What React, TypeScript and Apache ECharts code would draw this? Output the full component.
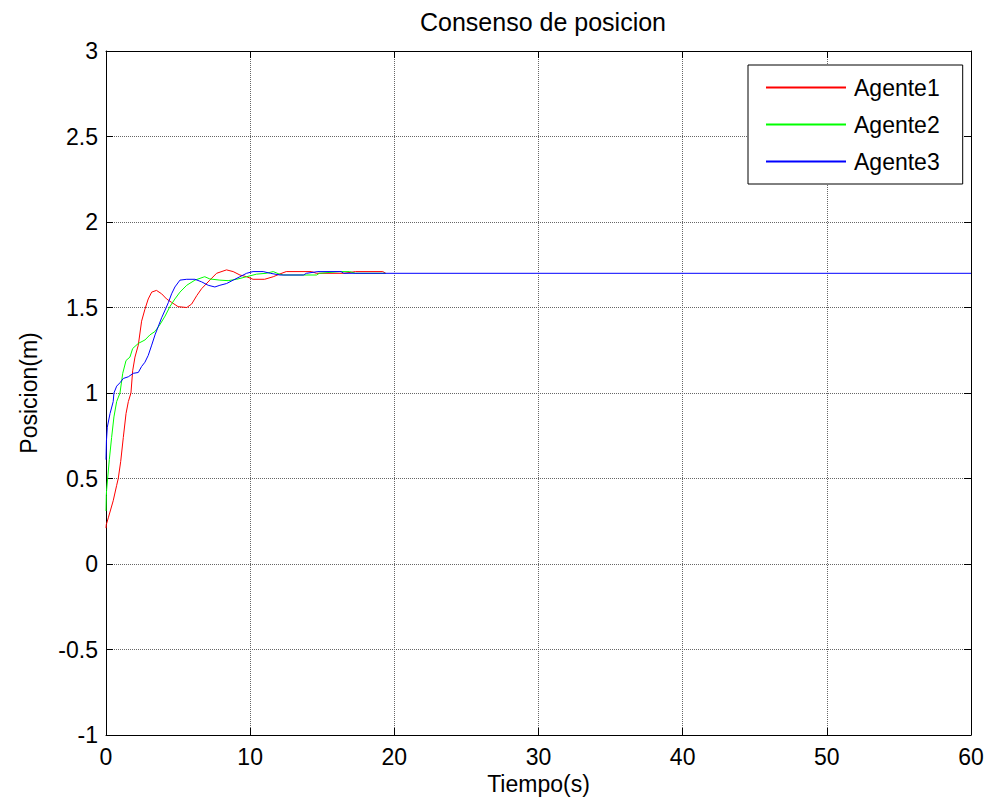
import React, { useEffect, useRef } from "react";
import * as echarts from "echarts";

// Tiempo (s) y posición (m) de cada agente
const agente1T = [0, 0.02, 0.16, 0.5, 0.74, 0.85, 1.02, 1.2, 1.39, 1.55, 1.73, 1.85, 2.01, 2.24, 2.47, 2.7, 2.93, 3.17, 3.5, 3.86, 4.2, 4.55, 5.0, 5.6, 5.94, 6.3, 6.63, 7.2, 7.67, 8.36, 8.82, 9.29, 9.75, 10.2, 11.0, 11.6, 12.06, 12.5, 14.25, 14.6, 16.5, 17.3, 19.2, 19.4];
const agente1Y = [0.21, 0.23, 0.27, 0.37, 0.46, 0.5, 0.6, 0.74, 0.88, 0.95, 1.0, 1.13, 1.21, 1.28, 1.42, 1.49, 1.55, 1.59, 1.6, 1.58, 1.55, 1.53, 1.505, 1.5, 1.52, 1.57, 1.61, 1.66, 1.7, 1.72, 1.71, 1.69, 1.68, 1.665, 1.665, 1.68, 1.696, 1.71, 1.71, 1.7, 1.7, 1.71, 1.71, 1.7];

const agente2T = [0, 0.02, 0.04, 0.23, 0.39, 0.55, 0.74, 0.97, 1.16, 1.39, 1.66, 1.85, 2.24, 2.7, 3.05, 3.4, 3.74, 4.1, 4.43, 4.78, 5.13, 5.6, 6.17, 6.74, 6.85, 7.2, 7.9, 8.47, 9.06, 9.75, 10.44, 11.1, 11.6, 12.0, 12.3, 14.6, 14.8, 16.2, 16.9, 17.3, 19.4];
const agente2Y = [0.31, 0.4, 0.43, 0.61, 0.74, 0.86, 0.95, 1.0, 1.115, 1.19, 1.21, 1.26, 1.29, 1.31, 1.34, 1.36, 1.4, 1.45, 1.505, 1.55, 1.59, 1.63, 1.66, 1.677, 1.68, 1.667, 1.66, 1.657, 1.665, 1.68, 1.695, 1.7, 1.71, 1.696, 1.69, 1.69, 1.7, 1.71, 1.71, 1.7, 1.7];

const agente3T = [0, 0.03, 0.09, 0.28, 0.5, 0.55, 0.74, 0.97, 1.2, 1.55, 1.89, 2.24, 2.47, 2.7, 2.93, 3.17, 3.4, 3.63, 3.86, 4.1, 4.33, 4.55, 4.78, 5.13, 5.6, 6.17, 6.63, 7.09, 7.55, 7.9, 8.36, 8.82, 9.29, 9.75, 10.2, 10.9, 11.4, 12.06, 13.7, 13.9, 14.7, 16.3, 16.5, 60];
const agente3Y = [0.61, 0.72, 0.8, 0.88, 0.95, 1.0, 1.04, 1.06, 1.085, 1.095, 1.115, 1.12, 1.155, 1.18, 1.22, 1.28, 1.34, 1.39, 1.44, 1.485, 1.53, 1.58, 1.62, 1.66, 1.665, 1.665, 1.65, 1.63, 1.62, 1.63, 1.64, 1.66, 1.68, 1.7, 1.71, 1.71, 1.7, 1.69, 1.69, 1.7, 1.71, 1.71, 1.7, 1.7];

const agentes = [
  { name: "Agente1", t: agente1T, y: agente1Y, color: "#ff0000" },
  { name: "Agente2", t: agente2T, y: agente2Y, color: "#00ff00" },
  { name: "Agente3", t: agente3T, y: agente3Y, color: "#0000ff" },
];

const FONT = "Liberation Sans, Arial, Helvetica, sans-serif";

export default function App() {
  const ref = useRef<HTMLDivElement>(null);

  useEffect(() => {
    if (!ref.current) return;
    const chart = echarts.init(ref.current, undefined, { renderer: "svg" });

    const tickInside = { show: true, inside: true, length: 7, lineStyle: { color: "#000", width: 1 } };
    const axisLine = { show: true, onZero: false, lineStyle: { color: "#000", width: 1 } };
    const gridLine = { show: true, lineStyle: { color: "#666", width: 1, type: "dotted" as const } };

    chart.setOption({
      animation: false,
      backgroundColor: "#fff",
      title: {
        text: "Consenso de posicion",
        left: 538,
        textAlign: "center",
        top: 4,
        textStyle: { fontFamily: FONT, fontSize: 25, fontWeight: "normal", color: "#000" },
      },
      grid: { left: 106, top: 51, right: 18, bottom: 72, containLabel: false },
      legend: {
        orient: "vertical",
        left: 748,
        top: 65,
        padding: [11, 23, 11, 17],
        itemWidth: 80,
        itemHeight: 14,
        itemGap: 14,
        borderColor: "#000",
        borderWidth: 1,
        backgroundColor: "#fff",
        // only the line sample, no marker
        itemStyle: { color: "transparent", borderWidth: 0, opacity: 0 },
        textStyle: { fontFamily: FONT, fontSize: 23, color: "#000", lineHeight: 23, padding: [0, 0, 0, 3] },
        data: agentes.map((a) => a.name),
      },
      xAxis: [
        {
          type: "value",
          position: "bottom",
          min: 0,
          max: 60,
          interval: 10,
          name: "Tiempo(s)",
          nameLocation: "middle",
          nameGap: 34,
          nameTextStyle: { fontFamily: FONT, fontSize: 23, color: "#000" },
          axisLine,
          axisTick: tickInside,
          axisLabel: { fontFamily: FONT, fontSize: 23, color: "#000", margin: 10 },
          splitLine: gridLine,
        },
        {
          type: "value",
          position: "top",
          min: 0,
          max: 60,
          interval: 10,
          axisLine,
          axisTick: tickInside,
          axisLabel: { show: false },
          splitLine: { show: false },
        },
      ],
      yAxis: [
        {
          type: "value",
          position: "left",
          min: -1,
          max: 3,
          interval: 0.5,
          name: "Posicion(m)",
          nameLocation: "middle",
          nameGap: 66,
          nameTextStyle: { fontFamily: FONT, fontSize: 23, color: "#000" },
          axisLine,
          axisTick: tickInside,
          axisLabel: { fontFamily: FONT, fontSize: 23, color: "#000", margin: 8 },
          splitLine: gridLine,
        },
        {
          type: "value",
          position: "right",
          min: -1,
          max: 3,
          interval: 0.5,
          axisLine,
          axisTick: tickInside,
          axisLabel: { show: false },
          splitLine: { show: false },
        },
      ],
      series: agentes.map((a) => ({
        name: a.name,
        type: "line",
        xAxisIndex: 0,
        yAxisIndex: 0,
        symbol: "none",
        showSymbol: false,
        color: a.color,
        lineStyle: { color: a.color, width: 1 },
        data: a.t.map((t, i) => [t, a.y[i]]),
      })),
    });

    return () => chart.dispose();
  }, []);

  return (
    <div
      ref={ref}
      style={{ position: "fixed", left: 0, top: 0, width: 989, height: 807, background: "#fff" }}
    />
  );
}
